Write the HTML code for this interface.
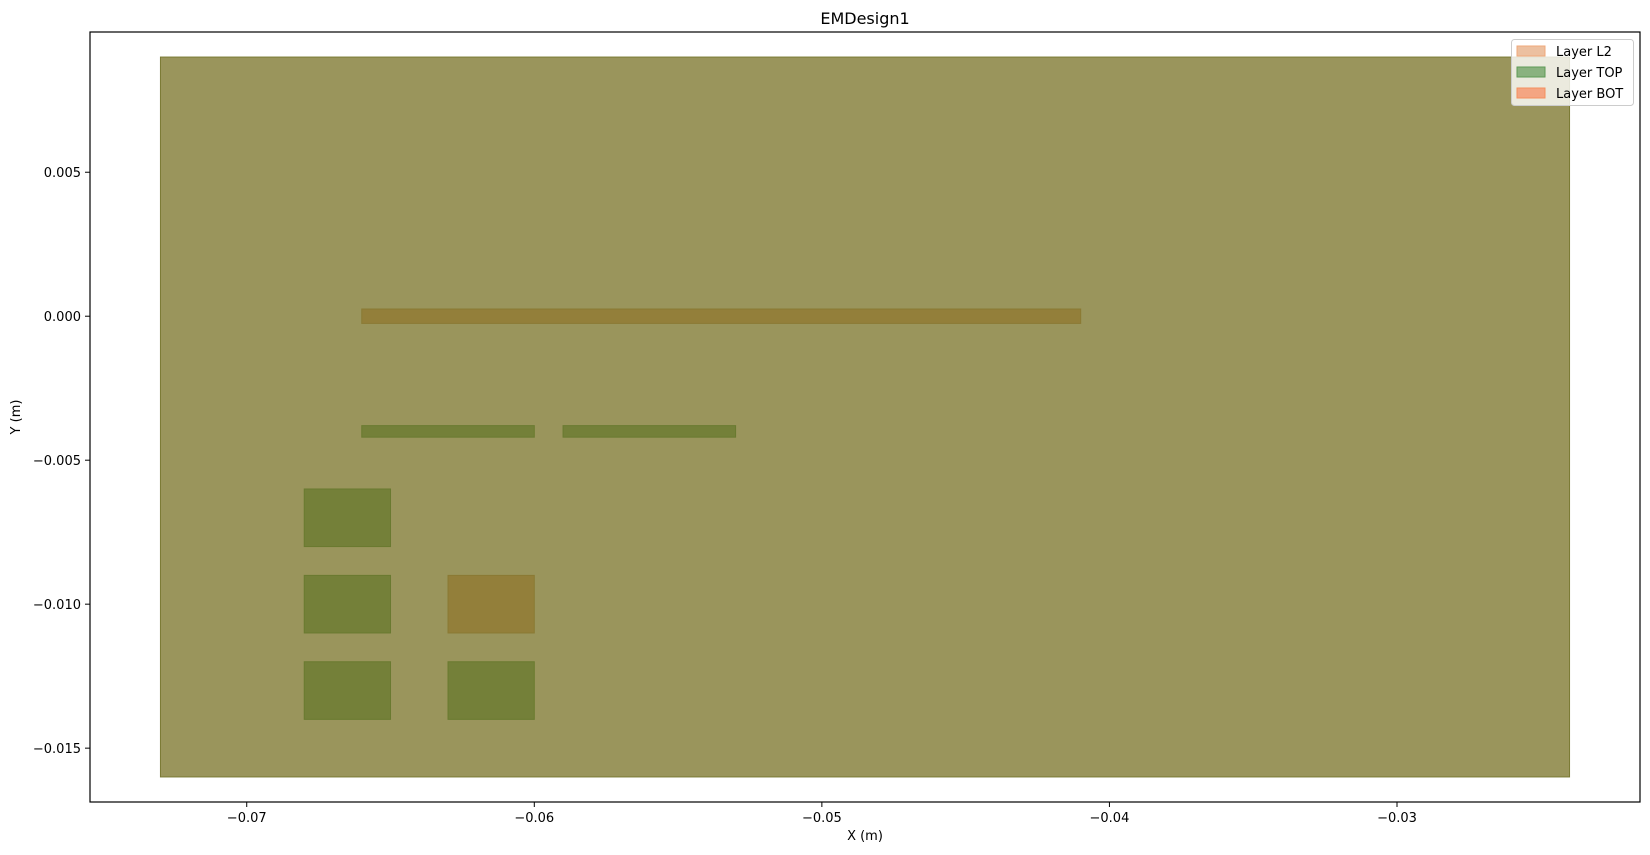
<!DOCTYPE html>
<html><head><meta charset="utf-8"><style>
body{margin:0;background:#fff;}
svg{display:block;font-family:"DejaVu Sans","Liberation Sans",sans-serif;}
</style></head><body>
<svg id="chart" width="1650" height="855">
<rect width="1650" height="855" fill="#fff"/>
<g id="plot"></g>
<g id="axes"></g>
</svg>
<script>
const rectLayers=["BOT","L2","TOP","TOP","TOP","TOP","TOP","L2","TOP"];
const rectNames=["board","trace-l2","trace-top-1","trace-top-2","pad-1","pad-2","pad-3","pad-4","pad-5"];
const rectX0=[-0.073,-0.066,-0.066,-0.059,-0.068,-0.068,-0.068,-0.063,-0.063];
const rectX1=[-0.024,-0.041,-0.060,-0.053,-0.065,-0.065,-0.065,-0.060,-0.060];
const rectY0=[-0.016,-0.00025,-0.0042,-0.0042,-0.008,-0.011,-0.014,-0.011,-0.014];
const rectY1=[0.009,0.00025,-0.0038,-0.0038,-0.006,-0.009,-0.012,-0.009,-0.012];
const xTicks=[-0.07,-0.06,-0.05,-0.04,-0.03];
const xTickLabels=["−0.07","−0.06","−0.05","−0.04","−0.03"];
const yTicks=[0.005,0,-0.005,-0.010,-0.015];
const yTickLabels=["0.005","0.000","−0.005","−0.010","−0.015"];
const legendLabels=["Layer L2","Layer TOP","Layer BOT"];

const L=90,R=1640,T=32,B=802;
const xMin=-0.07545,xMax=-0.02155,yMin=-0.01687,yMax=0.00987;
const sx=v=>L+(v-xMin)/(xMax-xMin)*(R-L);
const sy=v=>B-(v-yMin)/(yMax-yMin)*(B-T);
const NS="http://www.w3.org/2000/svg";
function mk(tag,attrs,parent){const e=document.createElementNS(NS,tag);for(const k in attrs)e.setAttribute(k,attrs[k]);parent.appendChild(e);return e;}
const fillFor={BOT:"#9a955c",L2:"#937f3a",TOP:"#748039"};
const strokeFor={BOT:"#7a7a34",L2:"#8a7a34",TOP:"#6a7a30"};
const plot=document.getElementById('plot');
for(let i=0;i<rectX0.length;i++){
  const x=sx(rectX0[i]),x2=sx(rectX1[i]),y=sy(rectY1[i]),y2=sy(rectY0[i]);
  const r=mk('rect',{x:x,y:y,width:x2-x,height:y2-y,fill:fillFor[rectLayers[i]],stroke:strokeFor[rectLayers[i]],'stroke-width':1},plot);
  
  
}
const ax=document.getElementById('axes');
const frame=mk('rect',{x:L,y:T,width:R-L,height:B-T,fill:'none',stroke:'#000','stroke-width':1.2},ax);


xTicks.forEach((v,i)=>{
  const x=sx(v);
  mk('line',{x1:x,x2:x,y1:B,y2:B+5,stroke:'#000'},ax);
  const t=mk('text',{x:x,y:B+20,'text-anchor':'middle','font-size':13},ax);
  t.textContent=xTickLabels[i];
  
  
});
yTicks.forEach((v,i)=>{
  const y=sy(v);
  mk('line',{x1:L-5,x2:L,y1:y,y2:y,stroke:'#000'},ax);
  const t=mk('text',{x:L-9,y:y+5,'text-anchor':'end','font-size':13},ax);
  t.textContent=yTickLabels[i];
  
  
});
let t=mk('text',{x:(L+R)/2,y:840,'text-anchor':'middle','font-size':13},ax);t.textContent="X (m)";


t=mk('text',{x:20,y:(T+B)/2,'text-anchor':'middle','font-size':13,transform:`rotate(-90 20 ${(T+B)/2})`},ax);t.textContent="Y (m)";


t=mk('text',{x:(L+R)/2,y:24,'text-anchor':'middle','font-size':16},ax);t.textContent="EMDesign1";


const lg=mk('g',{},ax);


mk('rect',{x:1511.5,y:39.5,width:122,height:66,rx:3,fill:'rgba(255,255,255,0.8)',stroke:'#ccc'},lg);
const lf=["#ecc0a0","#8ab27f","#f4a582"],ls=["#f0a87a","#5e9a55","#f4905e"];
legendLabels.forEach((s,i)=>{
  const y=51+i*21;
  const p=mk('rect',{x:1517,y:y-5,width:28,height:10,fill:lf[i],stroke:ls[i]},lg);
  
  
  const tx=mk('text',{x:1556,y:y+5,'font-size':13},lg);tx.textContent=s;
  
  
});
</script>
</body></html>
